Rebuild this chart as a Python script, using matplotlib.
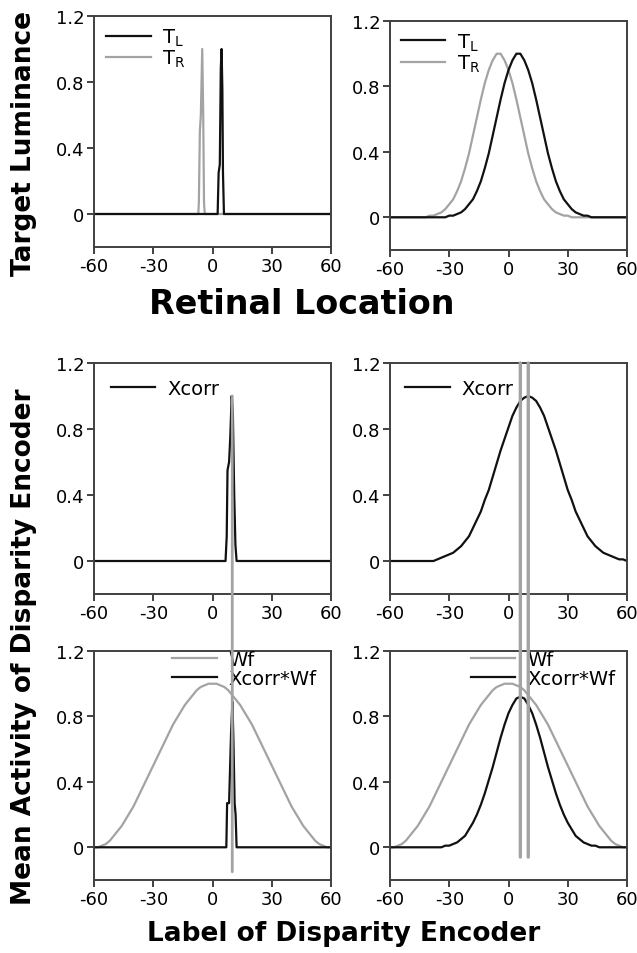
import numpy as np
import matplotlib
matplotlib.use('Agg')
import matplotlib.pyplot as plt
from matplotlib.patches import ConnectionPatch

plt.rcParams['font.family'] = ['DejaVu Sans']
plt.rcParams['mathtext.fontset'] = 'dejavusans'

# ---------------- data ----------------
x_grid = np.arange(-60, 61, 2)

# narrow targets (top-left)
tl_spike_x = [-60, 2.6, 3.1, 3.7, 4.2, 4.6, 5.0, 5.3, 5.8, 60]
tl_spike_y = [0, 0, 0.25, 0.30, 0.88, 1.00, 0.75, 0.25, 0, 0]
tr_spike_x = [-60, -7.2, -6.9, -6.4, -5.9, -5.2, -4.7, -4.3, -3.9, 60]
tr_spike_y = [0, 0, 0.07, 0.50, 0.60, 1.00, 0.60, 0.07, 0, 0]

# broad targets (top-right)
tl_broad = [0]*15 + [0.01, 0.01, 0.02, 0.03, 0.05, 0.08, 0.11, 0.16, 0.22, 0.30,
                     0.39, 0.50, 0.61, 0.72, 0.82, 0.90, 0.96, 1.00, 1.00, 0.96,
                     0.90, 0.82, 0.72, 0.61, 0.50, 0.39, 0.30, 0.22, 0.16, 0.11,
                     0.08, 0.05, 0.03, 0.02, 0.01, 0.01] + [0]*10
tr_broad = [0]*10 + [0.01, 0.01, 0.02, 0.03, 0.05, 0.08, 0.11, 0.16, 0.22, 0.30,
                     0.39, 0.50, 0.61, 0.72, 0.82, 0.90, 0.96, 1.00, 1.00, 0.96,
                     0.90, 0.82, 0.72, 0.61, 0.50, 0.39, 0.30, 0.22, 0.16, 0.11,
                     0.08, 0.05, 0.03, 0.02, 0.01, 0.01] + [0]*15

# cross-correlation
xcorr_spike_x = [-60, 6.6, 7.2, 7.6, 8.4, 9.0, 9.7, 10.3, 11.0, 11.6, 12.2, 60]
xcorr_spike_y = [0, 0, 0.15, 0.55, 0.60, 0.75, 1.00, 0.90, 0.40, 0.10, 0, 0]
xcorr_broad = [0]*12 + [0.01, 0.02, 0.03, 0.04, 0.05, 0.07, 0.09, 0.12, 0.15, 0.20,
                        0.25, 0.30, 0.37, 0.43, 0.51, 0.59, 0.67, 0.74, 0.81, 0.88,
                        0.93, 0.97, 0.99, 1.00, 0.99, 0.97, 0.93, 0.88, 0.81, 0.74,
                        0.67, 0.59, 0.51, 0.43, 0.37, 0.30, 0.25, 0.20, 0.15, 0.12,
                        0.09, 0.07, 0.05, 0.04, 0.03, 0.02, 0.01, 0.01, 0.00]

# weighting function
wf = [0.00, 0.00, 0.01, 0.02, 0.04, 0.07, 0.10, 0.13, 0.17, 0.21, 0.25, 0.30, 0.35,
      0.40, 0.45, 0.50, 0.55, 0.60, 0.65, 0.70, 0.75, 0.79, 0.83, 0.87, 0.90, 0.93,
      0.96, 0.98, 0.99, 1.00, 1.00, 1.00, 0.99, 0.98, 0.96, 0.93, 0.90, 0.87, 0.83,
      0.79, 0.75, 0.70, 0.65, 0.60, 0.55, 0.50, 0.45, 0.40, 0.35, 0.30, 0.25, 0.21,
      0.17, 0.13, 0.10, 0.07, 0.04, 0.02, 0.01, 0.00, 0.00]

# weighted cross-correlation
xwf_spike_x = [-60, 7.0, 7.4, 8.4, 9.4, 10.1, 10.6, 11.2, 11.7, 12.2, 60]
xwf_spike_y = [0, 0, 0.27, 0.27, 0.70, 0.89, 0.65, 0.27, 0.20, 0, 0]
xwf_broad = [0]*14 + [0.01, 0.01, 0.02, 0.03, 0.05, 0.07, 0.11, 0.15, 0.20, 0.26,
                      0.33, 0.41, 0.49, 0.58, 0.67, 0.75, 0.82, 0.87, 0.91, 0.92,
                      0.91, 0.87, 0.82, 0.75, 0.67, 0.58, 0.49, 0.41, 0.33, 0.26,
                      0.20, 0.15, 0.11, 0.07, 0.05, 0.03, 0.02, 0.01, 0.01] + [0]*8

# marker lines (peak locations)
left_marker = 10
right_markers = [6, 10]

xticks = [-60, -30, 0, 30, 60]
yticks = [0, 0.4, 0.8, 1.2]
ytick_labels = ['0', '0.4', '0.8', '1.2']

BLACK = '#111111'
GRAY = '#a3a3a3'
SPINE = '#404040'

# ---------------- figure ----------------
W, H = 637, 954
fig = plt.figure(figsize=(W / 100, H / 100), dpi=100)


def add_ax(l, t, r, b):
    ax = fig.add_axes([l / W, 1 - b / H, (r - l) / W, (b - t) / H])
    ax.set_xlim(-60, 60)
    ax.set_ylim(-0.2, 1.2)
    ax.set_xticks(xticks)
    ax.set_xticklabels([str(v) for v in xticks])
    ax.set_yticks(yticks)
    ax.set_yticklabels(ytick_labels)
    for s in ax.spines.values():
        s.set_color(SPINE)
        s.set_linewidth(1.4)
    ax.tick_params(direction='out', length=5, width=1.4, color=SPINE,
                   labelsize=13, pad=2)
    return ax


ax_tl = add_ax(94, 17, 331, 248)
ax_tr = add_ax(390, 22, 627, 251)
ax_ml = add_ax(94, 364, 331, 595)
ax_mr = add_ax(390, 364, 627, 595)
ax_bl = add_ax(94, 652, 331, 881)
ax_br = add_ax(390, 652, 627, 881)

LW = 1.6
leg_kw = dict(frameon=False, fontsize=14, borderpad=0, borderaxespad=0,
              handlelength=2.3, handletextpad=0.6, loc='upper left')

# top-left
ax_tl.plot(tr_spike_x, tr_spike_y, color=GRAY, lw=LW, label=r'T$_\mathrm{R}$')
ax_tl.plot(tl_spike_x, tl_spike_y, color=BLACK, lw=LW, label=r'T$_\mathrm{L}$')
h, l = ax_tl.get_legend_handles_labels()
ax_tl.legend(h[::-1], l[::-1], bbox_to_anchor=(0.05, 0.955), labelspacing=0.0, **leg_kw)

# top-right
ax_tr.plot(x_grid, tr_broad, color=GRAY, lw=LW, label=r'T$_\mathrm{R}$')
ax_tr.plot(x_grid, tl_broad, color=BLACK, lw=LW, label=r'T$_\mathrm{L}$')
h, l = ax_tr.get_legend_handles_labels()
ax_tr.legend(h[::-1], l[::-1], bbox_to_anchor=(0.045, 0.955), labelspacing=0.0, **leg_kw)

# middle-left
ax_ml.plot(xcorr_spike_x, xcorr_spike_y, color=BLACK, lw=LW, label='Xcorr')
ax_ml.legend(bbox_to_anchor=(0.07, 0.93), **leg_kw)

# middle-right
ax_mr.plot(x_grid, xcorr_broad, color=BLACK, lw=LW, label='Xcorr')
ax_mr.legend(bbox_to_anchor=(0.065, 0.93), **leg_kw)

# bottom-left
ax_bl.plot(x_grid, wf, color=GRAY, lw=LW, label='Wf')
ax_bl.plot(xwf_spike_x, xwf_spike_y, color=BLACK, lw=LW, label='Xcorr*Wf')
ax_bl.legend(bbox_to_anchor=(0.33, 1.005), labelspacing=0.0, **leg_kw)

# bottom-right
ax_br.plot(x_grid, wf, color=GRAY, lw=LW, label='Wf')
ax_br.plot(x_grid, xwf_broad, color=BLACK, lw=LW, label='Xcorr*Wf')
ax_br.legend(bbox_to_anchor=(0.34, 1.005), labelspacing=0.0, **leg_kw)

# vertical marker lines spanning panels
con = ConnectionPatch(xyA=(left_marker, 1.0), coordsA='data', axesA=ax_ml,
                      xyB=(left_marker, -0.15), coordsB='data', axesB=ax_bl,
                      color=GRAY, lw=2.0, zorder=10)
fig.add_artist(con)
for xm in right_markers:
    con = ConnectionPatch(xyA=(xm, 1.2), coordsA='data', axesA=ax_mr,
                          xyB=(xm, -0.06), coordsB='data', axesB=ax_br,
                          color=GRAY, lw=2.4, zorder=10)
    fig.add_artist(con)

# axis titles
fig.text(24 / W, 1 - 144 / H, 'Target Luminance', rotation=90, ha='center', va='center',
         fontsize=19, fontweight='bold')
fig.text(302 / W, 1 - 314 / H, 'Retinal Location', ha='center', va='baseline',
         fontsize=24, fontweight='bold')
fig.text(24 / W, 1 - 647 / H, 'Mean Activity of Disparity Encoder', rotation=90,
         ha='center', va='center', fontsize=19, fontweight='bold')
fig.text(344 / W, 1 - 941 / H, 'Label of Disparity Encoder', ha='center', va='baseline',
         fontsize=19, fontweight='bold')

fig.savefig('out.png', dpi=100)
